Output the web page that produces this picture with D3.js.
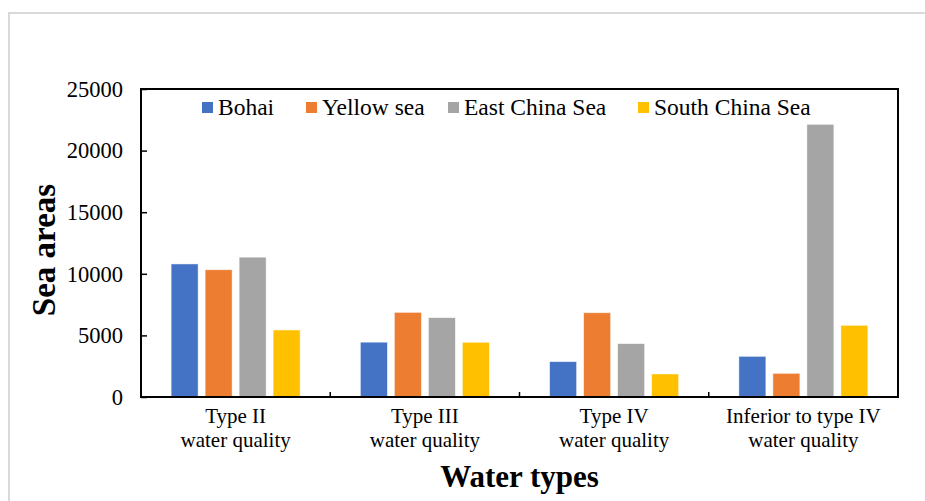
<!DOCTYPE html>
<html>
<head>
<meta charset="utf-8">
<script src="https://cdn.jsdelivr.net/npm/d3@7"></script>
<style>
  html, body { margin: 0; padding: 0; background: #fff; }
  svg text { font-family: "Liberation Serif", "Times New Roman", serif; }
</style>
</head>
<body>
<svg id="chart" width="925" height="501"></svg>
<script>
// Sea area by water quality class, per sea
const categories = [
  ["Type II", "water quality"],
  ["Type III", "water quality"],
  ["Type IV", "water quality"],
  ["Inferior to type IV", "water quality"]
];
const seriesNames = ["Bohai", "Yellow sea", "East China Sea", "South China Sea"];
const bohai      = [10800, 4450, 2870, 3300];
const yellowSea  = [10330, 6870, 6840, 1920];
const eastChina  = [11350, 6440, 4330, 22130];
const southChina = [5440, 4440, 1870, 5820];
const yTicks = [0, 5000, 10000, 15000, 20000, 25000];
const colors = ["#4472C4", "#ED7D31", "#A5A5A5", "#FFC000"];

const seriesValues = [bohai, yellowSea, eastChina, southChina];
const SERIF = "'Liberation Serif', 'Times New Roman', serif";

const svg = d3.select("#chart");

// outer frame
svg.append("rect")
  .attr("x", 9).attr("y", 13).attr("width", 940).attr("height", 520)
  .attr("fill", "none").attr("stroke", "#d9d9d9").attr("stroke-width", 2);

const plot = { left: 141, right: 898, top: 89, bottom: 397 };

const x0 = d3.scaleBand()
  .domain(d3.range(categories.length))
  .range([plot.left, plot.right])
  .paddingInner(0).paddingOuter(0);

const x1 = d3.scaleBand()
  .domain(d3.range(seriesNames.length))
  .range([0, x0.bandwidth()])
  .paddingInner(0.206).paddingOuter(0.886);

const y = d3.scaleLinear().domain([0, 25000]).range([plot.bottom, plot.top]);

// bars
const groups = svg.append("g").selectAll("g")
  .data(categories.map((c, i) => i))
  .join("g")
  .attr("transform", i => `translate(${x0(i)},0)`);

groups.selectAll("rect")
  .data(i => seriesValues.map((vals, s) => ({ s, v: vals[i] })))
  .join("rect")
  .attr("x", d => x1(d.s))
  .attr("width", x1.bandwidth())
  .attr("y", d => y(d.v))
  .attr("height", d => y(0) - y(d.v))
  .attr("fill", d => colors[d.s])
  .attr("stroke", "#ffffff")
  .attr("stroke-opacity", 0.6)
  .attr("stroke-width", 0.8);

// plot frame
svg.append("rect")
  .attr("x", plot.left).attr("y", plot.top)
  .attr("width", plot.right - plot.left).attr("height", plot.bottom - plot.top)
  .attr("fill", "none").attr("stroke", "#000").attr("stroke-width", 2);

// y axis (inside ticks)
const yAxis = svg.append("g")
  .attr("transform", `translate(${plot.left},0)`)
  .call(d3.axisLeft(y).tickValues(yTicks).tickSize(-6).tickPadding(18).tickFormat(d3.format("d")));
yAxis.attr("font-family", SERIF);
yAxis.select(".domain").remove();
yAxis.selectAll(".tick line").attr("stroke", "#000").attr("stroke-width", 1.5);
yAxis.selectAll(".tick text")
  .attr("font-size", "22.5px").attr("fill", "#000");

// x axis: separators between categories
const sepScale = d3.scaleLinear().domain([0, categories.length]).range([plot.left, plot.right]);
svg.append("g").selectAll("line")
  .data(d3.range(1, categories.length))
  .join("line")
  .attr("x1", d => sepScale(d)).attr("x2", d => sepScale(d))
  .attr("y1", plot.bottom).attr("y2", plot.bottom - 5)
  .attr("stroke", "#000").attr("stroke-width", 1.5);

// category labels
const labels = svg.append("g").selectAll("text")
  .data(categories.map((c, i) => ({ c, i })))
  .join("text")
  .attr("text-anchor", "middle")
  .attr("font-size", "21px")
  .attr("fill", "#000");
labels.each(function(d) {
  const t = d3.select(this);
  const cx = x0(d.i) + x0.bandwidth() / 2;
  d.c.forEach((line, k) => {
    t.append("tspan").attr("x", cx).attr("y", 423 + k * 24).text(line);
  });
});

// axis titles
svg.append("text")
  .attr("x", (plot.left + plot.right) / 2).attr("y", 487)
  .attr("text-anchor", "middle")
  .attr("font-size", "31px").attr("font-weight", "bold")
  .text("Water types");

svg.append("text")
  .attr("transform", "translate(55,250) rotate(-90)")
  .attr("text-anchor", "middle")
  .attr("font-size", "33px").attr("font-weight", "bold")
  .text("Sea areas");

// legend
const legendX = [202, 306, 448, 638];
const legend = svg.append("g").selectAll("g")
  .data(seriesNames.map((n, i) => ({ n, i })))
  .join("g")
  .attr("transform", d => `translate(${legendX[d.i]},0)`);
legend.append("rect")
  .attr("x", 0).attr("y", 102).attr("width", 11).attr("height", 11)
  .attr("fill", d => colors[d.i]);
legend.append("text")
  .attr("x", 16).attr("y", 115)
  .attr("font-size", "23.5px").attr("fill", "#000")
  .text(d => d.n);
</script>
</body>
</html>
